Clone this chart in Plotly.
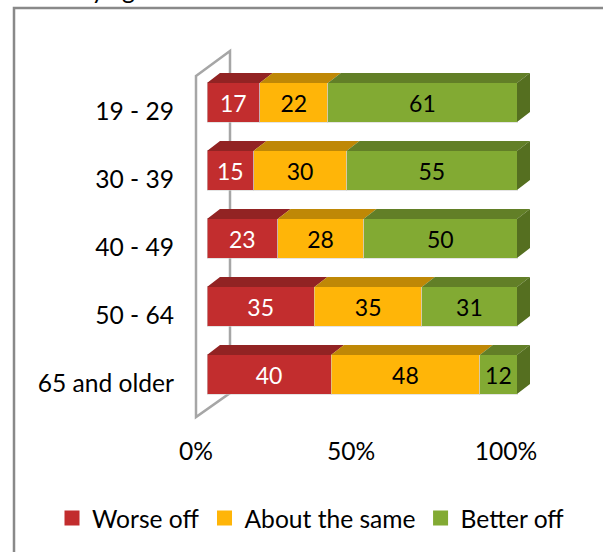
import plotly.graph_objects as go

W, H = 603, 552
categories = ["19 - 29", "30 - 39", "40 - 49", "50 - 64", "65 and older"]
worse_off = [17, 15, 23, 35, 40]
about_same = [22, 30, 28, 35, 48]
better_off = [61, 55, 50, 31, 12]
series_names = ["Worse off", "About the same", "Better off"]
front_colors = ["#C22D2E", "#FFB508", "#82AA33"]
top_colors = ["#922323", "#BF8806", "#627F27"]
side_color = "#556F20"
text_colors = ["white", "black", "black"]
x_ticks = [0, 50, 100]
x_labels = ["0%", "50%", "100%"]
FONT = "Lato"
FS = 24.6

px = lambda v: v / W
py = lambda v: 1 - v / H

series = [worse_off, about_same, better_off]
rows = list(range(len(categories)))
bar_w = 0.574
dx, dy = 4.19, 0.147

fig = go.Figure()

# depth faces, computed from the normalised stacked values
for rank in (0, 1, 2):
    xs, ys = [], []
    for r in rows:
        total = sum(s[r] for s in series)
        x0 = sum(s[r] for s in series[:rank]) / total * 100
        x1 = x0 + series[rank][r] / total * 100
        t = r - bar_w / 2
        xs += [x0, x1, x1 + dx, x0 + dx, x0, None]
        ys += [t, t, t - dy, t - dy, t, None]
    fig.add_trace(go.Scatter(x=xs, y=ys, mode="lines", fill="toself", fillcolor=top_colors[rank],
                             line=dict(width=0), showlegend=False, hoverinfo="skip"))
xs, ys = [], []
for r in rows:
    t, b = r - bar_w / 2, r + bar_w / 2
    xs += [100, 100 + dx, 100 + dx, 100, 100, None]
    ys += [t, t - dy, b - dy, b, t, None]
fig.add_trace(go.Scatter(x=xs, y=ys, mode="lines", fill="toself", fillcolor=side_color,
                         line=dict(width=0), showlegend=False, hoverinfo="skip"))

# front faces
for i, vals in enumerate(series):
    fig.add_trace(go.Bar(y=rows, x=vals, orientation="h", width=bar_w, name=series_names[i],
                         marker=dict(color=front_colors[i], line=dict(width=1, color="rgba(205,205,205,0.55)")),
                         text=vals, textposition="inside", insidetextanchor="middle",
                         textangle=0, constraintext="none",
                         textfont=dict(color=text_colors[i], size=23, family=FONT),
                         showlegend=False))
# legend keys
for i, n in enumerate(series_names):
    fig.add_trace(go.Scatter(x=[None], y=[None], mode="markers", name=n,
                             marker=dict(symbol="square", size=15, color=front_colors[i])))

top_px, bot_px = 60, 410
y_lo = (top_px - 102.5) / 68
y_hi = (bot_px - 102.5) / 68

wall = f"M{px(196)},{py(76)} L{px(230)},{py(51)} L{px(230)},{py(393)} L{px(196)},{py(417)} Z"
border = f"M{px(14)},{py(552)} L{px(14)},{py(8)} L{px(603)},{py(8)}"

fig.update_layout(
    width=W, height=H, margin=dict(l=0, r=0, t=0, b=0, autoexpand=False),
    paper_bgcolor="white", plot_bgcolor="rgba(0,0,0,0)",
    barmode="stack", barnorm="percent",
    font=dict(family=FONT, size=FS, color="black"),
    xaxis=dict(domain=[px(207), px(530)], range=[0, 100 + dx], tickvals=x_ticks, ticktext=x_labels,
               showgrid=False, zeroline=False, showline=False, ticks="", automargin=False,
               ticklabelshift=-11, ticklabelstandoff=24, tickfont=dict(size=FS, family=FONT)),
    yaxis=dict(domain=[py(bot_px), py(top_px)], range=[y_hi, y_lo], tickvals=rows, ticktext=categories,
               showgrid=False, zeroline=False, showline=False, ticks="", automargin=False,
               ticklabelshift=-9, ticklabelstandoff=32, tickfont=dict(size=FS, family=FONT)),
    legend=dict(orientation="h", x=px(52), y=py(518), xanchor="left", yanchor="middle", traceorder="normal",
                font=dict(size=FS, family=FONT), bgcolor="rgba(0,0,0,0)", itemclick=False),
    shapes=[
        dict(type="path", path=wall, xref="paper", yref="paper", layer="below",
             line=dict(color="#A6A6A6", width=2.5)),
        dict(type="path", path=border, xref="paper", yref="paper", layer="below",
             line=dict(color="#898989", width=2.5)),
    ],
    annotations=[dict(text="by age", x=px(76), y=py(-1), xref="paper", yref="paper", xanchor="left",
                      yanchor="bottom", showarrow=False, font=dict(size=FS, family=FONT, color="black"),
                      yshift=-7)],
)
fig.write_html("out.html", config=dict(displayModeBar=False),
               post_script="document.body.style.margin='0';document.body.style.overflow='hidden';")
